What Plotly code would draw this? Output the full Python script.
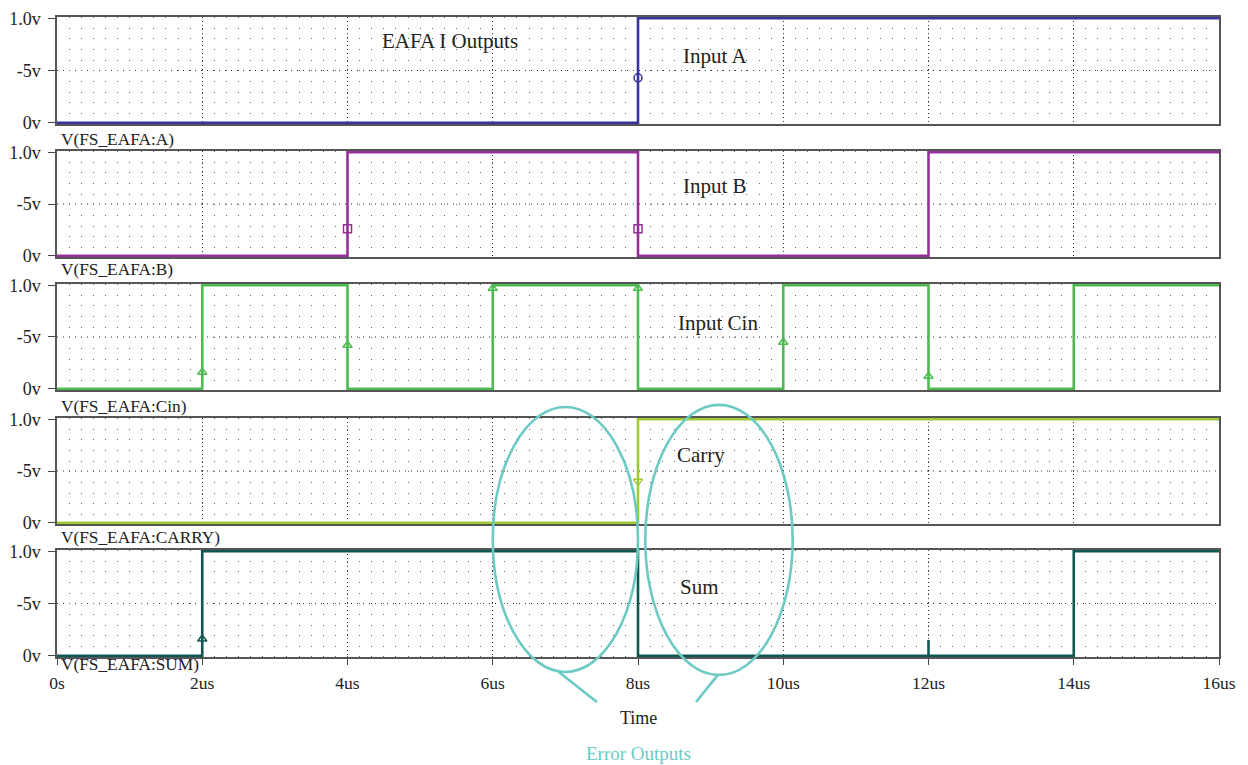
import plotly.graph_objects as go

# ---------------- data ----------------
x_tickvals = [0, 2, 4, 6, 8, 10, 12, 14, 16]
x_ticktext = ["0s", "2us", "4us", "6us", "8us", "10us", "12us", "14us", "16us"]
y_tickvals = [0, 0.5, 1]
y_ticktext = ["0v", "-5v", "1.0v"]

t_A = [0, 8, 16]
v_A = [0, 1, 1]
t_B = [0, 4, 8, 12, 16]
v_B = [0, 1, 0, 1, 1]
t_Cin = [0, 2, 4, 6, 8, 10, 12, 14, 16]
v_Cin = [0, 1, 0, 1, 0, 1, 0, 1, 1]
t_Carry = [0, 8, 16]
v_Carry = [0, 1, 1]
t_Sum = [0, 2, 8, 12, 12, 14, 16]
v_Sum = [0, 1, 0, 0.15, 0, 1, 1]

mk_A_t, mk_A_v = [8], [0.43]
mk_B_t, mk_B_v = [4, 8], [0.26, 0.26]
mk_Cin_t, mk_Cin_v = [2, 4, 6, 8, 10, 12], [0.16, 0.42, 0.97, 0.97, 0.45, 0.12]
mk_Carry_t, mk_Carry_v = [8], [0.40]
mk_Sum_t, mk_Sum_v = [2], [0.16]

panel_names = ["V(FS_EAFA:A)", "V(FS_EAFA:B)", "V(FS_EAFA:Cin)", "V(FS_EAFA:CARRY)", "V(FS_EAFA:SUM)"]
panel_titles = ["Input A", "Input B", "Input Cin", "Carry", "Sum"]

# ---------------- style ----------------
FONT = "Liberation Serif, Times New Roman, serif"
colors = ["#35359c", "#962f9a", "#4dbb52", "#9ccb36", "#0f5753"]
symbols = ["circle-open", "square-open", "triangle-up-open", "triangle-down-open", "triangle-up-open"]
domains = [[0.8328, 1.0], [0.625, 0.7906], [0.4172, 0.5828], [0.2078, 0.3734], [0.0, 0.1672]]
label_y = [0.809, 0.605, 0.392, 0.186, -0.0115]
title_pos = [(9.06, 0.635), (9.06, 0.67), (9.1, 0.64), (8.87, 0.65), (8.85, 0.654)]
ellipse_color = "#6ccac2"

series = [(t_A, v_A, mk_A_t, mk_A_v), (t_B, v_B, mk_B_t, mk_B_v),
          (t_Cin, v_Cin, mk_Cin_t, mk_Cin_v), (t_Carry, v_Carry, mk_Carry_t, mk_Carry_v),
          (t_Sum, v_Sum, mk_Sum_t, mk_Sum_v)]

fig = go.Figure()
layout = dict(
    template="none",
    width=1232, height=757,
    margin=dict(l=49, r=21, t=9, b=108),
    paper_bgcolor="white", plot_bgcolor="white",
    showlegend=False,
    font=dict(family=FONT, size=16, color="#222"),
)
annotations = []
shapes = []

for i, (t, v, mt, mv) in enumerate(series):
    n = i + 1
    xa = "x" if n == 1 else f"x{n}"
    ya = "y" if n == 1 else f"y{n}"
    fig.add_trace(go.Scatter(x=t, y=v, mode="lines", line=dict(color=colors[i], width=2.6, shape="hv"),
                             xaxis=xa, yaxis=ya, hoverinfo="skip"))
    fig.add_trace(go.Scatter(x=mt, y=mv, mode="markers", cliponaxis=False,
                             marker=dict(symbol=symbols[i], size=8, color=colors[i], line=dict(width=1.5, color=colors[i])),
                             xaxis=xa, yaxis=ya, hoverinfo="skip"))
    last = (n == 5)
    layout["xaxis" if n == 1 else f"xaxis{n}"] = dict(
        domain=[0, 1], range=[0, 16], anchor=ya, automargin=False,
        matches=None if n == 1 else "x",
        tickvals=x_tickvals, ticktext=x_ticktext,
        showticklabels=last, ticks="outside" if last else "", ticklen=6, tickcolor="#444",
        ticklabelstandoff=3,
        tickfont=dict(family=FONT, size=17.5, color="#222"),
        showline=True, mirror=True, linecolor="#555", linewidth=1.5,
        showgrid=True, gridcolor="#333", gridwidth=1, griddash="1px,3px",
        zeroline=False,
        minor=dict(dtick=1/6, tick0=0, showgrid=True, gridcolor="#666", gridwidth=1, griddash="1px,9.65px"),
    )
    layout["yaxis" if n == 1 else f"yaxis{n}"] = dict(
        domain=domains[i], range=[-0.012, 1.012], anchor=xa, automargin=False,
        tickvals=y_tickvals, ticktext=y_ticktext,
        ticks="outside", ticklen=7, tickcolor="#444", ticklabelstandoff=4,
        tickfont=dict(family=FONT, size=18, color="#222"),
        showline=True, mirror=True, linecolor="#555", linewidth=1.5,
        showgrid=False, zeroline=False,
    )
    # the mid-level dotted guide
    shapes.append(dict(type="line", xref="paper", yref=ya, x0=0, x1=1, y0=0.5, y1=0.5,
                       line=dict(color="#333", width=1, dash="1px,5px"), layer="below"))
    annotations.append(dict(text=panel_names[i], xref="paper", yref="paper", x=0.002, y=label_y[i],
                            xanchor="left", yanchor="middle", showarrow=False,
                            font=dict(family=FONT, size=17.3, color="#222")))
    annotations.append(dict(text=panel_titles[i], xref=xa, yref=ya, x=title_pos[i][0], y=title_pos[i][1],
                            xanchor="center", yanchor="middle", showarrow=False,
                            font=dict(family=FONT, size=21, color="#222")))

annotations.append(dict(text="EAFA I Outputs", xref="x", yref="y", x=5.41, y=0.785, showarrow=False,
                        xanchor="center", yanchor="middle",
                        font=dict(family=FONT, size=21, color="#222")))
annotations.append(dict(text="Time", xref="paper", yref="paper", x=0.5, y=-0.095, showarrow=False,
                        xanchor="center", yanchor="middle",
                        font=dict(family=FONT, size=18, color="#222")))
annotations.append(dict(text="Error Outputs", xref="paper", yref="paper", x=0.5, y=-0.151, showarrow=False,
                        xanchor="center", yanchor="middle",
                        font=dict(family=FONT, size=19, color=ellipse_color)))

# error highlight ellipses with pointer strokes
shapes += [
    dict(type="circle", xref="x5", yref="paper", x0=6.0, x1=8.0, y0=-0.0234, y1=0.3906,
         line=dict(color=ellipse_color, width=2.6)),
    dict(type="circle", xref="x5", yref="paper", x0=8.1, x1=10.13, y0=-0.028, y1=0.394,
         line=dict(color=ellipse_color, width=2.6)),
    dict(type="line", xref="x5", yref="paper", x0=6.91, x1=7.434, y0=-0.0234, y1=-0.0703,
         line=dict(color=ellipse_color, width=2.6)),
    dict(type="line", xref="x5", yref="paper", x0=9.10, x1=8.80, y0=-0.028, y1=-0.0703,
         line=dict(color=ellipse_color, width=2.6)),
]

layout["annotations"] = annotations
layout["shapes"] = shapes
fig.update_layout(**layout)
fig.write_html("out.html")
